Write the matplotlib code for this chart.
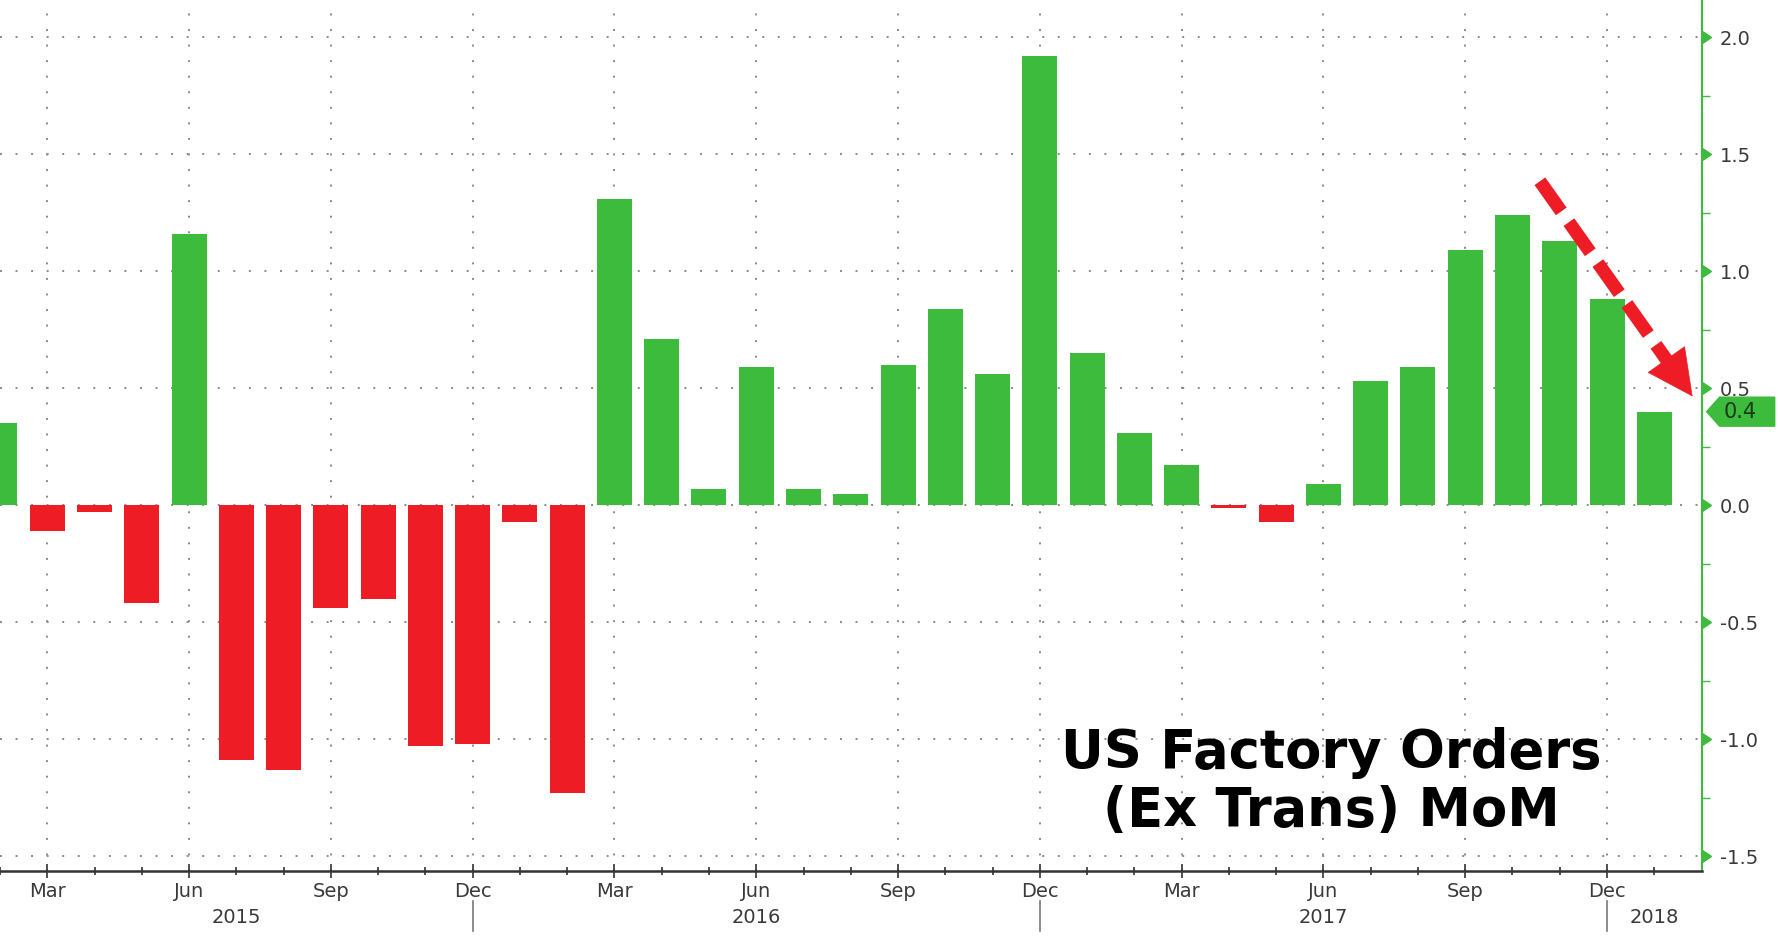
import matplotlib
matplotlib.use("Agg")
import matplotlib.pyplot as plt
import matplotlib.transforms as mtransforms
from matplotlib.patches import Polygon
import numpy as np

# ---------------- data ----------------
months = ["Feb 2015", "Mar 2015", "Apr 2015", "May 2015", "Jun 2015", "Jul 2015", "Aug 2015",
          "Sep 2015", "Oct 2015", "Nov 2015", "Dec 2015", "Jan 2016", "Feb 2016", "Mar 2016",
          "Apr 2016", "May 2016", "Jun 2016", "Jul 2016", "Aug 2016", "Sep 2016", "Oct 2016",
          "Nov 2016", "Dec 2016", "Jan 2017", "Feb 2017", "Mar 2017", "Apr 2017", "May 2017",
          "Jun 2017", "Jul 2017", "Aug 2017", "Sep 2017", "Oct 2017", "Nov 2017", "Dec 2017",
          "Jan 2018"]
values = [0.35, -0.11, -0.03, -0.42, 1.16, -1.09, -1.13, -0.44, -0.40, -1.03, -1.02, -0.07,
          -1.23, 1.31, 0.71, 0.07, 0.59, 0.07, 0.05, 0.60, 0.84, 0.56, 1.92, 0.65, 0.31,
          0.17, -0.01, -0.07, 0.09, 0.53, 0.59, 1.09, 1.24, 1.13, 0.88, 0.40]
quarter_labels = ["Mar", "Jun", "Sep", "Dec", "Mar", "Jun", "Sep", "Dec", "Mar", "Jun", "Sep", "Dec"]
quarter_months = ["Mar 2015", "Jun 2015", "Sep 2015", "Dec 2015", "Mar 2016", "Jun 2016",
                  "Sep 2016", "Dec 2016", "Mar 2017", "Jun 2017", "Sep 2017", "Dec 2017"]
year_labels = ["2015", "2016", "2017", "2018"]
year_months = ["Jul 2015", "Jun 2016", "Jun 2017", "Jan 2018"]
year_sep_months = ["Dec 2015", "Dec 2016", "Dec 2017"]
yticks = [-1.5, -1.0, -0.5, 0.0, 0.5, 1.0, 1.5, 2.0]
last_value_label = "0.4"
title = "US Factory Orders\n(Ex Trans) MoM"
# trend arrow: (month, offset in months, value)
arrow_start = ("Oct 2017", 0.58, 1.385)
arrow_end = ("Jan 2018", 0.81, 0.465)

# ---------------- style ----------------
GREEN = "#3dbb3d"
RED = "#ee1c25"
TXT = "#3a3a3a"
plt.rcParams["font.family"] = ["DejaVu Sans"]

fig = plt.figure(figsize=(17.78, 9.46), dpi=100)
ax = fig.add_axes([0.0, 0.079, 0.957, 0.921])

idx = {m: i for i, m in enumerate(months)}
x = np.arange(len(months))
colors = [GREEN if v >= 0 else RED for v in values]
ax.bar(x, values, width=0.74, color=colors, zorder=3)

ax.set_xlim(idx["Mar 2015"] - 0.91, idx["Mar 2015"] + 35.0)
ax.set_ylim(-1.565, 2.16)

# grid
qx = [idx[m] for m in quarter_months]
for q in qx:
    ax.axvline(q, color="#8a8a8a", lw=1.4, ls=(0, (1, 7)), zorder=1)
for yv in yticks:
    ax.axhline(yv, color="#8a8a8a", lw=1.4, ls=(0, (1, 7)), zorder=1)

# spines
for s in ["top", "left"]:
    ax.spines[s].set_visible(False)
ax.spines["right"].set_color(GREEN)
ax.spines["right"].set_linewidth(1.5)
ax.spines["bottom"].set_color("#333333")
ax.spines["bottom"].set_linewidth(1.8)

# y axis on the right
ax.yaxis.tick_right()
ax.set_yticks(yticks)
ax.set_yticklabels([f"{v:.1f}" for v in yticks], fontsize=14, color=TXT)
ax.set_yticks(np.arange(-1.25, 2.1, 0.5), minor=True)
ax.tick_params(axis="y", which="major", length=9, width=1, color=GREEN, pad=4)
ax.tick_params(axis="y", which="minor", length=6, width=1, color=GREEN, direction="out")
for t in ax.yaxis.get_major_ticks():
    t.tick2line.set_marker(9)
    t.tick2line.set_markersize(9)
    t.tick2line.set_markerfacecolor(GREEN)
    t.tick2line.set_markeredgecolor(GREEN)

# x axis
ax.set_xticks(qx)
ax.set_xticklabels(quarter_labels, fontsize=14, color=TXT)
ax.set_xticks(x, minor=True)
ax.tick_params(axis="x", which="major", length=10, width=1.2, color="#333333", direction="inout", pad=3)
ax.tick_params(axis="x", which="minor", length=6, width=1.2, color="#333333", direction="inout")

xt = ax.get_xaxis_transform()
for m, lab in zip(year_months, year_labels):
    ax.text(idx[m], -0.053, lab, transform=xt, ha="center", va="center", fontsize=14, color=TXT)
for m in year_sep_months:
    ax.plot([idx[m], idx[m]], [-0.034, -0.068], transform=xt, color="#777777", lw=1.2, clip_on=False)

# title text
fig.text(0.749, 0.173, title, ha="center", va="center", fontsize=38, fontweight="bold",
         color="black", multialignment="center", linespacing=1.15)

# red dashed arrow: dashed shaft + solid head
p0 = np.array([idx[arrow_start[0]] + arrow_start[1], arrow_start[2]])
p1 = np.array([idx[arrow_end[0]] + arrow_end[1], arrow_end[2]])
shaft_end = p0 + 0.90 * (p1 - p0)
head_start = p0 + 0.86 * (p1 - p0)
ax.plot([p0[0], shaft_end[0]], [p0[1], shaft_end[1]], color=RED, lw=9.5,
        ls=(0, (2.8, 1.0)), solid_capstyle="butt", dash_capstyle="butt", zorder=5, clip_on=False)
ax.annotate("", xy=tuple(p1), xytext=tuple(head_start),
            arrowprops=dict(arrowstyle="-|>,head_length=1.6,head_width=0.8", color=RED, lw=0.5,
                            shrinkA=0, shrinkB=0, mutation_scale=20), zorder=6)

# last value tag
tr = mtransforms.blended_transform_factory(ax.transAxes, ax.transData)
lv = values[-1]
tag = Polygon([(1.003, lv), (1.0106, lv + 0.062), (1.043, lv + 0.062), (1.043, lv - 0.062),
               (1.0106, lv - 0.062)], closed=True, transform=tr, facecolor=GREEN,
              edgecolor=GREEN, clip_on=False, zorder=5)
ax.add_patch(tag)
ax.text(1.023, lv, last_value_label, transform=tr, ha="center", va="center", fontsize=15,
        color="#1a3a1a", zorder=6, clip_on=False)

fig.savefig("out.png", dpi=100)
